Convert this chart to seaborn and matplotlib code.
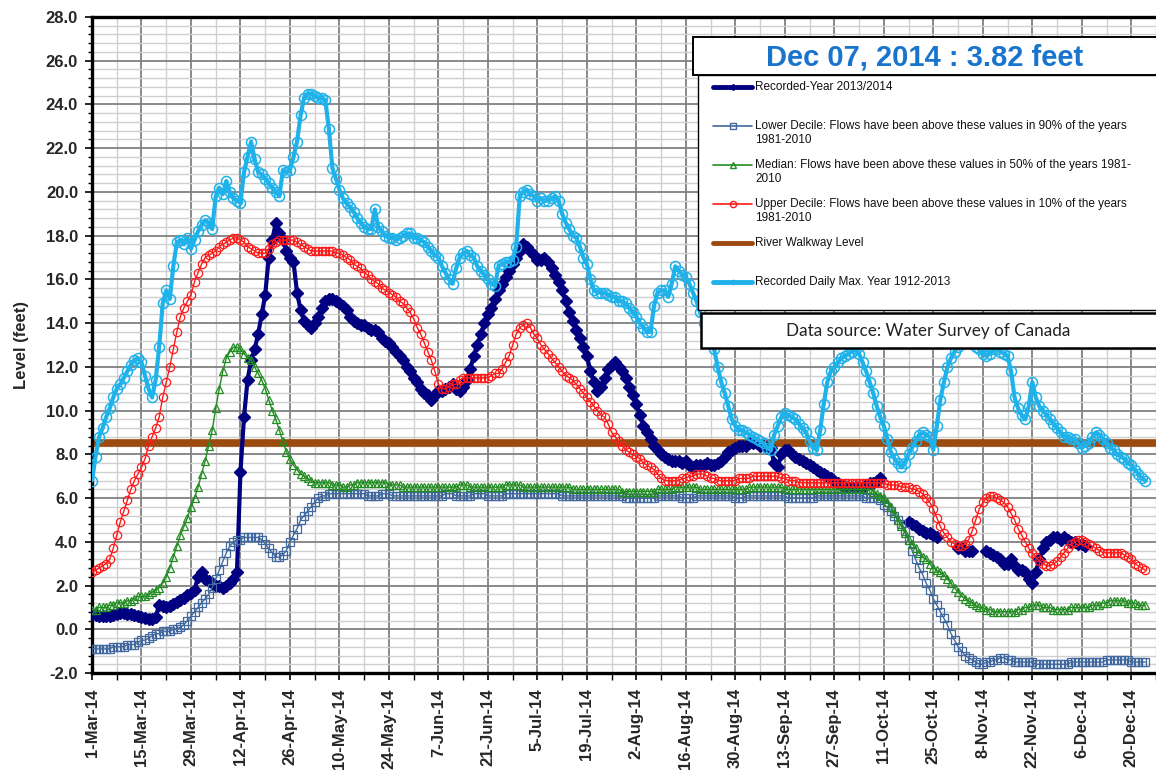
import numpy as np
import pandas as pd
import matplotlib
matplotlib.use("Agg")
import matplotlib.pyplot as plt
import matplotlib.dates as mdates
from matplotlib.lines import Line2D
from matplotlib.patches import Rectangle
from matplotlib.ticker import MultipleLocator, FormatStrFormatter
import seaborn as sns

nan = np.nan
start_date = "2014-03-01"

# daily levels (feet), 1-Mar-14 onward
recorded_2014 = [
    0.7, 0.65, 0.6, 0.6, 0.6, 0.6, 0.65, 0.7, 0.75, 0.75,
    0.7, 0.7, 0.65, 0.6, 0.55, 0.5, 0.45, 0.45, 0.55, 1.1,
    1.05, 1.0, 1.05, 1.15, 1.25, 1.35, 1.45, 1.55, 1.65, 1.8,
    2.4, 2.6, 2.3, 2.2, 2.1, 2.0, 2.0, 1.9, 2.0, 2.1,
    2.3, 2.6, 7.2, 9.7, 11.4, 12.3, 12.8, 13.5, 14.4, 15.3,
    17.0, 17.8, 18.6, 18.1, 17.8, 17.3, 17.0, 16.8, 15.4, 14.6,
    14.1, 13.9, 13.8, 14.0, 14.3, 14.7, 15.0, 15.1, 15.1, 15.0,
    14.9, 14.8, 14.6, 14.3, 14.1, 14.0, 13.9, 13.9, 13.8, 13.7,
    13.7, 13.6, 13.3, 13.2, 13.1, 12.9, 12.7, 12.5, 12.3, 12.0,
    11.8, 11.5, 11.3, 11.0, 10.8, 10.7, 10.5, 10.7, 10.9, 10.9,
    11.0, 11.1, 11.2, 11.0, 10.9, 11.1, 11.4, 11.9, 12.5, 13.0,
    13.5, 14.0, 14.4, 14.7, 15.1, 15.5, 15.8, 16.1, 16.4, 16.7,
    17.0, 17.3, 17.6, 17.5, 17.3, 17.1, 16.9, 16.9, 17.0, 16.8,
    16.5, 16.2, 15.9, 15.5, 15.0, 14.5, 14.1, 13.7, 13.3, 12.9,
    12.5, 11.8, 11.3, 10.9, 11.1, 11.5, 11.9, 12.1, 12.2, 12.0,
    11.8, 11.5, 11.1, 10.7, 10.3, 9.8, 9.3, 9.0, 8.7, 8.4,
    8.2, 8.0, 7.9, 7.8, 7.7, 7.7, 7.7, 7.6, 7.7, 7.5,
    7.4, 7.5, 7.5, 7.5, 7.6, 7.5, 7.5, 7.6, 7.7, 7.9,
    8.1, 8.2, 8.3, 8.4, 8.4, 8.4, 8.5, 8.5, 8.5, 8.4,
    8.4, 8.3, 8.3, 7.6, 7.4, 8.0, 8.2, 8.2, 8.0, 7.9,
    7.8, 7.7, 7.6, 7.5, 7.4, 7.3, 7.2, 7.1, 7.0, 6.9,
    6.8, 6.7, 6.6, 6.5, 6.5, 6.5, 6.5, 6.5, 6.5, 6.6,
    6.7, 6.7, 6.8, 6.9, nan, nan, nan, nan, nan, nan,
    nan, 4.9, 4.8, 4.7, 4.6, 4.5, 4.4, 4.4, 4.3, 4.2,
    nan, nan, nan, nan, nan, 3.7, 3.7, 3.6, 3.6, 3.6,
    nan, nan, nan, 3.6, 3.5, 3.4, 3.3, 3.2, 3.0, 3.0,
    3.2, 2.9, 2.7, 2.7, 2.6, 2.3, 2.1, 2.6, 3.2, 3.7,
    4.0, 4.1, 4.2, 4.2, 4.1, 4.2, 4.1, 4.0, 4.0, 3.9,
    3.9, 3.82,
]

lower_decile = [
    -0.9, -0.9, -0.9, -0.9, -0.9, -0.9, -0.8, -0.8, -0.8, -0.8,
    -0.7, -0.7, -0.7, -0.6, -0.5, -0.5, -0.4, -0.3, -0.2, -0.2,
    -0.1, -0.1, -0.1, 0.0, 0.0, 0.1, 0.2, 0.4, 0.6, 0.8,
    1.0, 1.2, 1.4, 1.6, 1.9, 2.3, 2.7, 3.1, 3.5, 3.8,
    4.0, 4.1, 4.1, 4.2, 4.2, 4.2, 4.2, 4.2, 4.1, 3.9,
    3.7, 3.5, 3.3, 3.3, 3.4, 3.6, 4.0, 4.3, 4.6, 5.0,
    5.2, 5.4, 5.6, 5.8, 6.0, 6.1, 6.1, 6.2, 6.2, 6.2,
    6.2, 6.2, 6.2, 6.2, 6.2, 6.2, 6.2, 6.2, 6.1, 6.1,
    6.1, 6.1, 6.2, 6.2, 6.2, 6.1, 6.1, 6.1, 6.1, 6.1,
    6.1, 6.1, 6.1, 6.1, 6.1, 6.1, 6.1, 6.1, 6.1, 6.1,
    6.2, 6.2, 6.2, 6.1, 6.1, 6.1, 6.1, 6.1, 6.2, 6.2,
    6.2, 6.2, 6.1, 6.1, 6.1, 6.1, 6.1, 6.2, 6.2, 6.2,
    6.2, 6.2, 6.2, 6.2, 6.2, 6.2, 6.2, 6.2, 6.2, 6.2,
    6.2, 6.2, 6.2, 6.1, 6.1, 6.1, 6.1, 6.1, 6.1, 6.1,
    6.1, 6.1, 6.1, 6.1, 6.1, 6.1, 6.1, 6.1, 6.1, 6.1,
    6.1, 6.0, 6.0, 6.0, 6.0, 6.0, 6.0, 6.0, 6.0, 6.0,
    6.1, 6.1, 6.1, 6.1, 6.1, 6.1, 6.1, 6.0, 6.0, 6.0,
    6.0, 6.1, 6.1, 6.1, 6.1, 6.1, 6.1, 6.1, 6.1, 6.1,
    6.1, 6.1, 6.0, 6.0, 6.0, 6.1, 6.1, 6.1, 6.1, 6.1,
    6.1, 6.1, 6.1, 6.1, 6.1, 6.1, 6.1, 6.0, 6.0, 6.0,
    6.0, 6.0, 6.0, 6.0, 6.0, 6.1, 6.1, 6.1, 6.1, 6.1,
    6.1, 6.1, 6.1, 6.1, 6.1, 6.1, 6.1, 6.1, 6.1, 6.0,
    6.0, 6.0, 6.0, 5.9, 5.7, 5.6, 5.4, 5.2, 5.0, 4.8,
    4.5, 4.1, 3.6, 3.2, 2.8, 2.5, 2.1, 1.8, 1.4, 1.1,
    0.8, 0.5, 0.2, -0.2, -0.5, -0.8, -1.0, -1.2, -1.3, -1.4,
    -1.5, -1.6, -1.6, -1.5, -1.5, -1.4, -1.4, -1.3, -1.3, -1.4,
    -1.4, -1.5, -1.5, -1.5, -1.5, -1.5, -1.5, -1.6, -1.6, -1.6,
    -1.6, -1.6, -1.6, -1.6, -1.6, -1.6, -1.6, -1.5, -1.5, -1.5,
    -1.5, -1.5, -1.5, -1.5, -1.5, -1.5, -1.5, -1.4, -1.4, -1.4,
    -1.4, -1.4, -1.4, -1.4, -1.5, -1.5, -1.5, -1.5, -1.5,
]

median = [
    0.9, 0.9, 1.0, 1.0, 1.0, 1.1, 1.1, 1.2, 1.2, 1.2,
    1.3, 1.3, 1.4, 1.5, 1.5, 1.5, 1.6, 1.7, 1.8, 1.9,
    2.1, 2.4, 2.8, 3.3, 3.8, 4.3, 4.7, 5.1, 5.6, 6.0,
    6.5, 7.1, 7.7, 8.4, 9.1, 10.1, 11.0, 11.8, 12.4, 12.7,
    12.9, 12.9, 12.8, 12.6, 12.4, 12.3, 12.0, 11.7, 11.4, 11.0,
    10.5, 10.0, 9.6, 9.1, 8.6, 8.1, 7.8, 7.5, 7.3, 7.1,
    7.0, 6.9, 6.8, 6.7, 6.7, 6.7, 6.7, 6.7, 6.6, 6.6,
    6.6, 6.5, 6.5, 6.6, 6.6, 6.7, 6.7, 6.7, 6.7, 6.7,
    6.7, 6.7, 6.7, 6.7, 6.6, 6.6, 6.6, 6.6, 6.5, 6.5,
    6.5, 6.5, 6.5, 6.5, 6.5, 6.5, 6.5, 6.5, 6.5, 6.5,
    6.5, 6.5, 6.5, 6.5, 6.6, 6.6, 6.6, 6.5, 6.5, 6.5,
    6.5, 6.5, 6.5, 6.5, 6.5, 6.5, 6.5, 6.6, 6.6, 6.6,
    6.6, 6.6, 6.5, 6.5, 6.5, 6.5, 6.5, 6.5, 6.5, 6.5,
    6.5, 6.5, 6.5, 6.5, 6.5, 6.5, 6.4, 6.4, 6.4, 6.4,
    6.4, 6.4, 6.4, 6.4, 6.4, 6.4, 6.4, 6.4, 6.4, 6.4,
    6.3, 6.3, 6.3, 6.3, 6.3, 6.3, 6.3, 6.3, 6.3, 6.3,
    6.4, 6.4, 6.4, 6.4, 6.4, 6.5, 6.5, 6.5, 6.5, 6.5,
    6.5, 6.5, 6.4, 6.4, 6.4, 6.4, 6.4, 6.4, 6.4, 6.4,
    6.4, 6.4, 6.4, 6.4, 6.4, 6.4, 6.5, 6.5, 6.5, 6.5,
    6.5, 6.5, 6.5, 6.5, 6.5, 6.5, 6.4, 6.4, 6.4, 6.4,
    6.4, 6.4, 6.4, 6.4, 6.4, 6.4, 6.4, 6.4, 6.4, 6.4,
    6.4, 6.4, 6.4, 6.4, 6.4, 6.4, 6.4, 6.4, 6.4, 6.4,
    6.4, 6.3, 6.2, 6.1, 6.0, 5.8, 5.6, 5.3, 5.0, 4.7,
    4.4, 4.1, 3.9, 3.7, 3.5, 3.3, 3.2, 3.0, 2.8, 2.7,
    2.6, 2.5, 2.3, 2.1, 1.9, 1.7, 1.5, 1.4, 1.3, 1.2,
    1.1, 1.0, 1.0, 0.9, 0.9, 0.8, 0.8, 0.8, 0.8, 0.8,
    0.8, 0.8, 0.9, 0.9, 1.0, 1.0, 1.1, 1.1, 1.1, 1.0,
    1.0, 1.0, 0.9, 0.9, 0.9, 0.9, 0.9, 1.0, 1.0, 1.0,
    1.0, 1.0, 1.0, 1.1, 1.1, 1.1, 1.2, 1.2, 1.3, 1.3,
    1.3, 1.3, 1.3, 1.2, 1.2, 1.2, 1.1, 1.1, 1.1,
]

upper_decile = [
    2.6, 2.7, 2.8, 2.9, 3.0, 3.2, 3.7, 4.3, 4.9, 5.4,
    5.9, 6.4, 6.8, 7.1, 7.4, 7.8, 8.4, 8.8, 9.2, 9.7,
    10.6, 11.3, 12.0, 12.8, 13.6, 14.3, 14.7, 15.0, 15.3, 15.9,
    16.3, 16.7, 17.0, 17.1, 17.2, 17.3, 17.5, 17.6, 17.7, 17.8,
    17.9, 17.9, 17.8, 17.7, 17.5, 17.4, 17.3, 17.2, 17.2, 17.2,
    17.4, 17.6, 17.7, 17.8, 17.8, 17.8, 17.8, 17.8, 17.7, 17.6,
    17.5, 17.4, 17.3, 17.3, 17.3, 17.3, 17.3, 17.3, 17.3, 17.2,
    17.2, 17.1, 17.0, 16.9, 16.7, 16.6, 16.5, 16.3, 16.2, 16.0,
    15.9, 15.8, 15.6, 15.5, 15.4, 15.3, 15.2, 15.0, 14.9, 14.7,
    14.5, 14.2, 13.8, 13.5, 13.1, 12.7, 12.3, 11.8, 11.2, 11.0,
    11.0, 11.1, 11.2, 11.2, 11.4, 11.5, 11.5, 11.5, 11.5, 11.5,
    11.5, 11.5, 11.5, 11.6, 11.7, 11.7, 11.9, 12.2, 12.5, 13.0,
    13.5, 13.8, 13.9, 14.0, 13.8, 13.5, 13.3, 13.0, 12.8, 12.6,
    12.4, 12.2, 12.0, 11.8, 11.6, 11.5, 11.4, 11.2, 11.0, 10.8,
    10.6, 10.4, 10.2, 10.0, 9.8, 9.7, 9.4, 9.0, 8.8, 8.6,
    8.4, 8.2, 8.1, 8.0, 7.9, 7.8, 7.6, 7.5, 7.4, 7.3,
    7.1, 6.9, 6.8, 6.8, 6.8, 6.8, 6.8, 6.9, 6.9, 7.0,
    7.0, 7.1, 7.1, 7.1, 7.0, 6.9, 6.9, 6.8, 6.8, 6.8,
    6.8, 6.8, 6.8, 6.9, 6.9, 6.9, 6.9, 7.0, 7.0, 7.0,
    7.0, 7.0, 7.0, 7.0, 7.0, 6.9, 6.9, 6.8, 6.8, 6.8,
    6.7, 6.7, 6.7, 6.7, 6.7, 6.7, 6.7, 6.7, 6.7, 6.7,
    6.7, 6.7, 6.7, 6.7, 6.7, 6.7, 6.7, 6.7, 6.7, 6.7,
    6.7, 6.7, 6.7, 6.7, 6.7, 6.6, 6.6, 6.6, 6.6, 6.5,
    6.5, 6.5, 6.4, 6.4, 6.3, 6.2, 6.0, 5.8, 5.5, 5.1,
    4.7, 4.4, 4.2, 4.0, 3.9, 3.8, 3.8, 3.9, 4.1, 4.5,
    5.0, 5.5, 5.8, 6.0, 6.1, 6.1, 6.0, 5.9, 5.8, 5.6,
    5.3, 5.0, 4.6, 4.3, 4.0, 3.7, 3.5, 3.3, 3.1, 3.0,
    2.9, 2.9, 3.0, 3.1, 3.3, 3.5, 3.7, 3.9, 4.0, 4.1,
    4.1, 4.0, 3.9, 3.8, 3.7, 3.6, 3.5, 3.5, 3.5, 3.5,
    3.5, 3.5, 3.4, 3.3, 3.2, 3.0, 2.9, 2.8, 2.7,
]

daily_max = [
    6.8, 7.9, 8.8, 9.2, 9.7, 10.1, 10.6, 11.0, 11.2, 11.5,
    11.8, 12.1, 12.3, 12.4, 12.2, 11.6, 11.0, 10.6, 11.4, 12.9,
    14.9, 15.5, 15.1, 16.6, 17.7, 17.8, 17.6, 17.9, 17.4, 17.8,
    18.2, 18.5, 18.7, 18.6, 18.3, 19.8, 20.2, 19.9, 20.5, 20.0,
    19.7, 19.6, 19.5, 20.9, 21.6, 22.3, 21.5, 20.9, 20.8, 20.6,
    20.4, 20.2, 20.0, 19.8, 21.0, 20.9, 21.0, 21.6, 22.3, 23.5,
    24.3, 24.5, 24.5, 24.4, 24.3, 24.3, 24.2, 22.9, 21.1, 20.6,
    20.1, 19.7, 19.5, 19.3, 19.1, 18.8, 18.6, 18.4, 18.3, 18.3,
    19.2, 18.4, 18.2, 18.0, 17.9, 17.9, 17.8, 17.9, 18.0, 18.1,
    18.1, 17.9, 17.9, 17.8, 17.7, 17.5, 17.3, 17.1, 17.0, 16.6,
    16.3, 16.0, 15.8, 16.5, 17.0, 17.2, 17.3, 17.1, 17.0, 16.6,
    16.4, 16.2, 16.0, 15.8, 15.7, 16.6, 16.7, 16.8, 16.8, 16.9,
    17.5, 19.8, 20.0, 20.1, 19.9, 19.8, 19.6, 19.7, 19.6, 19.6,
    19.7, 19.8, 19.6, 19.0, 18.6, 18.3, 18.0, 17.9, 17.5, 17.0,
    16.7, 16.0, 15.5, 15.4, 15.4, 15.4, 15.3, 15.2, 15.2, 15.0,
    15.0, 14.9, 14.7, 14.5, 14.3, 14.0, 13.8, 13.6, 13.6, 14.8,
    15.4, 15.5, 15.5, 15.2, 15.8, 16.6, 16.4, 16.2, 16.1, 15.8,
    15.4, 15.0, 14.5, 14.0, 13.6, 13.2, 12.8, 12.0, 11.3, 10.8,
    10.2, 9.6, 9.3, 9.1, 9.1, 9.0, 8.9, 8.8, 8.7, 8.6,
    8.5, 8.3, 8.2, 8.9, 9.3, 9.7, 9.9, 9.8, 9.7, 9.6,
    9.4, 9.2, 9.0, 8.6, 8.3, 8.2, 9.1, 10.3, 11.3, 11.8,
    12.0, 12.2, 12.4, 12.5, 12.6, 12.7, 12.8, 12.6, 12.2, 11.8,
    11.3, 10.8, 10.2, 9.7, 9.3, 8.7, 8.1, 7.8, 7.6, 7.4,
    7.6, 8.0, 8.3, 8.6, 8.9, 9.0, 8.9, 8.8, 8.2, 9.3,
    10.5, 11.3, 12.0, 12.4, 12.7, 12.9, 13.2, 13.4, 13.4, 13.2,
    12.9, 12.8, 12.6, 12.5, 12.6, 12.8, 12.8, 12.7, 12.6, 12.5,
    11.8, 10.6, 10.1, 9.8, 9.6, 10.2, 11.3, 10.6, 10.2, 10.0,
    9.8, 9.6, 9.4, 9.2, 9.0, 8.8, 8.8, 8.7, 8.7, 8.5,
    8.3, 8.4, 8.5, 8.8, 9.0, 8.9, 8.7, 8.5, 8.3, 8.2,
    8.0, 7.9, 7.8, 7.6, 7.5, 7.3, 7.1, 6.9, 6.8,
]

walkway_level = 8.5

legend_labels = [
    ["Recorded-Year 2013/2014"],
    ["Lower Decile: Flows have been above these values in 90% of the years", "1981-2010"],
    ["Median: Flows have been above these values in 50% of the years 1981-", "2010"],
    ["Upper Decile: Flows have been above these values in 10% of the years", "1981-2010"],
    ["River Walkway Level"],
    ["Recorded Daily Max. Year 1912-2013"],
]

NAVY = "#000080"
STEEL = "#4169A0"
GREEN = "#228B22"
RED = "#FF1A1A"
BROWN = "#9C4A0E"
SKY = "#1FB1EA"

days = pd.date_range(start_date, periods=len(daily_max), freq="D")
df = pd.DataFrame({"date": days, "lower": lower_decile, "median": median,
                   "upper": upper_decile, "dmax": daily_max})
rec = pd.DataFrame({"date": days[:len(recorded_2014)], "level": recorded_2014})
rec["seg"] = rec["level"].isna().cumsum()  # break the line at missing days

tick_dates = pd.date_range(start_date, periods=22, freq="14D")
tick_labels = [f"{d.day}-{d.strftime('%b-%y')}" for d in tick_dates]

sns.set_theme(style="white")
plt.rcParams["font.family"] = ["Liberation Sans", "DejaVu Sans"]

W, H = 1156, 777
fig = plt.figure(figsize=(W / 100, H / 100), dpi=100)
ax = fig.add_axes([92 / W, 1 - 673 / H, (W - 92) / W, 656 / H])

ax.axhline(walkway_level, color=BROWN, lw=5.5, zorder=2)
sns.lineplot(data=rec, x="date", y="level", units="seg", estimator=None, ax=ax,
             color=NAVY, lw=3, marker="D", ms=6.5, mec=NAVY, mfc=NAVY, mew=1, zorder=3)
sns.lineplot(data=df, x="date", y="lower", ax=ax, color=STEEL, lw=1,
             marker="s", ms=5.2, mfc="none", mec=STEEL, mew=0.9, zorder=4)
sns.lineplot(data=df, x="date", y="median", ax=ax, color=GREEN, lw=1,
             marker="^", ms=5.2, mfc="none", mec=GREEN, mew=0.9, zorder=5)
sns.lineplot(data=df, x="date", y="upper", ax=ax, color=RED, lw=1,
             marker="o", ms=6, mfc="none", mec=RED, mew=0.9, zorder=6)
sns.lineplot(data=df, x="date", y="dmax", ax=ax, color=SKY, lw=3,
             marker="o", ms=7.2, mfc="none", mec=SKY, mew=1.1, zorder=7)

ax.set_xlim(days[0], days[0] + pd.Timedelta(days=298))
ax.set_ylim(-2, 28)
ax.yaxis.set_major_locator(MultipleLocator(2))
ax.yaxis.set_minor_locator(MultipleLocator(0.4))
ax.yaxis.set_major_formatter(FormatStrFormatter("%.1f"))
ax.set_xticks(mdates.date2num(tick_dates))
ax.set_xticks(mdates.date2num(tick_dates + pd.Timedelta(days=7)), minor=True)
ax.set_xticklabels(tick_labels, rotation=90, fontsize=12, fontweight="bold")
for lab in ax.get_yticklabels():
    lab.set_fontweight("bold")
    lab.set_fontsize(12)

ax.grid(True, which="major", color="#808080", lw=1.3)
ax.grid(True, which="minor", color="#cfcfcf", lw=1.0)
ax.set_axisbelow(True)

ax.tick_params(which="both", direction="out", color="black", bottom=True, left=True)
ax.tick_params(axis="y", which="major", length=5, width=1.2, pad=5, labelsize=12)
ax.tick_params(axis="y", which="minor", length=3, width=1)
ax.tick_params(axis="x", which="major", length=5, width=1.2, pad=6, labelsize=12)
ax.tick_params(axis="x", which="minor", length=5, width=1)

for s in ["left", "bottom", "top"]:
    ax.spines[s].set_linewidth(2.4)
    ax.spines[s].set_color("black")
ax.spines["right"].set_visible(False)

ax.set_xlabel("")
ax.set_ylabel("Level (feet)", fontsize=12, fontweight="bold")
ax.yaxis.set_label_coords(-0.059, 0.5)


# boxes for title, legend and data source (pixel coords -> figure coords)
def fx(px):
    return px / W


def fy(py):
    return 1 - py / H


def box(x0, y0, x1, y1, lw):
    fig.add_artist(Rectangle((fx(x0), fy(y1)), fx(x1) - fx(x0), fy(y0) - fy(y1),
                             transform=fig.transFigure, facecolor="white",
                             edgecolor="black", lw=lw, zorder=10))


box(698, 75, 1175, 310, 1.0)
box(693, 37, 1175, 75, 1.4)
box(701, 313, 1175, 348, 1.8)

fig.text(fx(925), fy(58), "Dec 07, 2014 : 3.82 feet", ha="center", va="center",
         fontsize=21, fontweight="bold", color="#1874CD", zorder=11)
fig.text(fx(928), fy(331), "Data source: Water Survey of Canada", ha="center", va="center",
         fontsize=12.3, family=["Lato", "DejaVu Sans"], color="#222222", zorder=11)

handle_styles = [
    dict(color=NAVY, lw=3.5, marker="D", ms=3, mfc=NAVY, mec=NAVY),
    dict(color=STEEL, lw=1.2, marker="s", ms=4.5, mfc="none", mec=STEEL),
    dict(color=GREEN, lw=1.2, marker="^", ms=4.5, mfc="none", mec=GREEN),
    dict(color=RED, lw=1.2, marker="o", ms=4.5, mfc="none", mec=RED),
    dict(color=BROWN, lw=3.5),
    dict(color=SKY, lw=3.5, marker="o", ms=3, mfc=SKY, mec=SKY),
]
for i, (lines, st) in enumerate(zip(legend_labels, handle_styles)):
    yc = 86.5 + 39.1 * i
    fig.add_artist(Line2D([fx(713), fx(733), fx(752)], [fy(yc)] * 3, transform=fig.transFigure,
                          markevery=[1], zorder=11, **st))
    for j, txt in enumerate(lines):
        fig.text(fx(755), fy(yc + 14.5 * j), txt, ha="left", va="center",
                 fontsize=8.5, color="#111111", zorder=11)

fig.savefig("out.png", dpi=100)
